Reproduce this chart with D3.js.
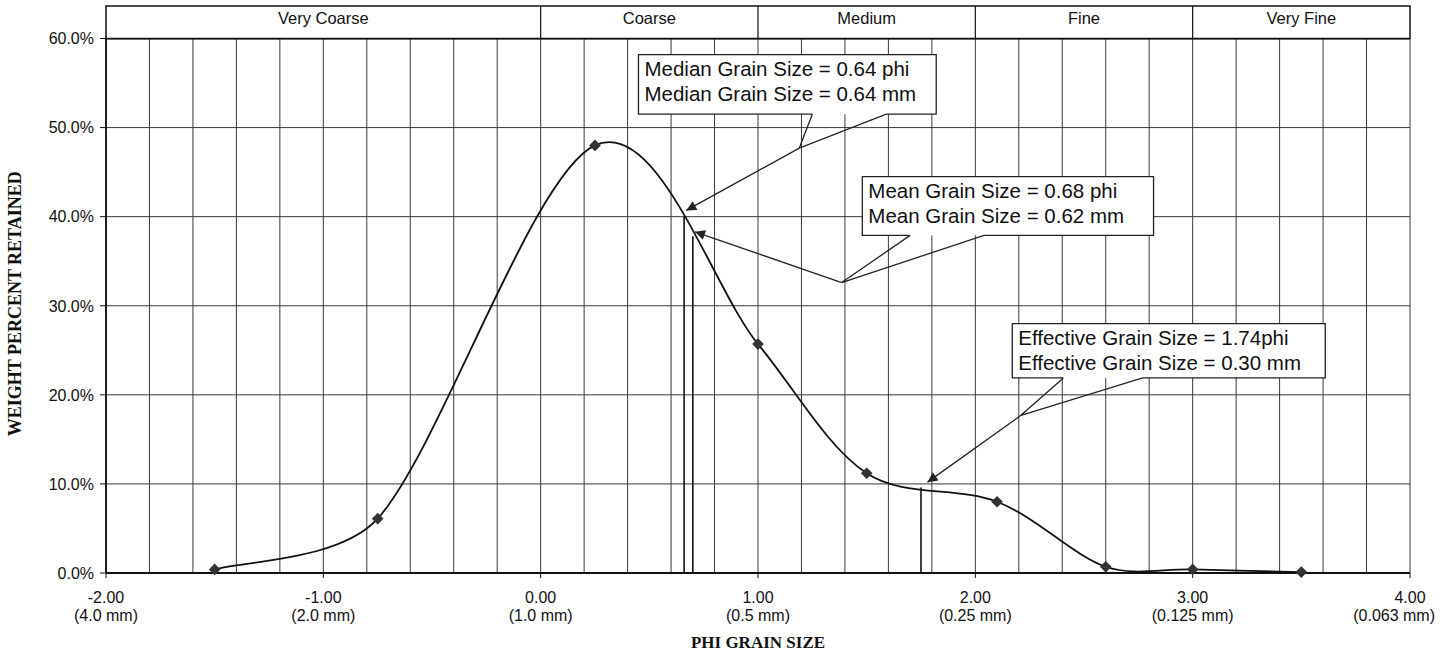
<!doctype html>
<html lang="en">
<head>
<meta charset="utf-8">
<title>Grain Size Distribution</title>
<style>
  body { margin: 0; background: #fff; }
  svg { display: block; }
  text { font-family: "Liberation Sans", Arial, sans-serif; fill: #111; }
  .serif { font-family: "Liberation Serif", "Times New Roman", serif; font-weight: bold; }
</style>
</head>
<body>
<div id="chart"></div>
<script src="https://d3js.org/d3.v7.min.js"></script>
<script>
// sieve data (phi, weight % retained)
var phi = [-1.5, -0.75, 0.25, 1.0, 1.5, 2.1, 2.6, 3.0, 3.5];
var pct = [0.4, 6.1, 48.0, 25.7, 11.2, 8.0, 0.7, 0.4, 0.1];

// axis ticks
var xTicks = [-2, -1, 0, 1, 2, 3, 4];
var xTickMm = ["(4.0 mm)", "(2.0 mm)", "(1.0 mm)", "(0.5 mm)", "(0.25 mm)", "(0.125 mm)", "(0.063 mm)"];
var yTicks = [0, 10, 20, 30, 40, 50, 60];

// size classes in the header band
var classNames = ["Very Coarse", "Coarse", "Medium", "Fine", "Very Fine"];
var classFrom = [-2, 0, 1, 2, 3];
var classTo = [0, 1, 2, 3, 4];

// vertical marker lines (median, mean, effective)
var markerPhi = [0.66, 0.70, 1.75];
var markerPct = [40.0, 37.8, 9.6];

// callouts, all in data units
var calloutText = [
  ["Median Grain Size = 0.64 phi", "Median Grain Size = 0.64 mm"],
  ["Mean Grain Size = 0.68 phi", "Mean Grain Size = 0.62 mm"],
  ["Effective Grain Size = 1.74phi", "Effective Grain Size = 0.30 mm"]
];
var calloutBox = [[0.45, 1.82, 58.2, 51.5], [1.48, 2.82, 44.5, 37.9], [2.17, 3.61, 28.0, 21.9]];
var calloutLegs = [[1.25, 1.59], [1.70, 2.04], [2.405, 2.77]];
var calloutApex = [[1.19, 47.7], [1.385, 32.6], [2.21, 17.7]];
var calloutTip = [[0.67, 40.7], [0.71, 38.3], [1.78, 10.2]];

var W = 1448, H = 654;
var mLeft = 106, mRight = 1410, mTop = 38.5, mBottom = 573;

var svg = d3.select("#chart").append("svg")
  .attr("width", W).attr("height", H);

var x = d3.scaleLinear().domain([-2, 4]).range([mLeft, mRight]);
var y = d3.scaleLinear().domain([0, 60]).range([mBottom, mTop]);

svg.append("defs").append("marker")
  .attr("id", "head")
  .attr("viewBox", "0 0 10 10")
  .attr("refX", 10).attr("refY", 5)
  .attr("markerWidth", 12).attr("markerHeight", 10)
  .attr("markerUnits", "userSpaceOnUse")
  .attr("orient", "auto")
  .append("path").attr("d", "M0,0L10,5L0,10z").attr("fill", "#222");

// grid: vertical every 0.2 phi, horizontal every 10%
var vGrid = d3.range(0, 31).map(function(i) { return -2 + i * 0.2; });
svg.append("g").selectAll("line").data(vGrid).enter().append("line")
  .attr("x1", function(d) { return x(d); }).attr("x2", function(d) { return x(d); })
  .attr("y1", y(0)).attr("y2", y(60))
  .attr("stroke", "#3a3a3a").attr("stroke-width", 1);
svg.append("g").selectAll("line").data(yTicks).enter().append("line")
  .attr("x1", x(-2)).attr("x2", x(4))
  .attr("y1", function(d) { return y(d); }).attr("y2", function(d) { return y(d); })
  .attr("stroke", "#3a3a3a").attr("stroke-width", 1);

// axes lines
svg.append("line").attr("x1", x(-2)).attr("x2", x(-2)).attr("y1", y(0)).attr("y2", y(60))
  .attr("stroke", "#111").attr("stroke-width", 1.8);
svg.append("line").attr("x1", x(-2)).attr("x2", x(4)).attr("y1", y(0)).attr("y2", y(0))
  .attr("stroke", "#111").attr("stroke-width", 1.8);
svg.append("line").attr("x1", x(-2)).attr("x2", x(4)).attr("y1", y(60)).attr("y2", y(60))
  .attr("stroke", "#111").attr("stroke-width", 1.8);

// y ticks + labels
var yg = svg.append("g");
yg.selectAll("line").data(yTicks).enter().append("line")
  .attr("x1", mLeft - 6).attr("x2", mLeft)
  .attr("y1", function(d) { return y(d); }).attr("y2", function(d) { return y(d); })
  .attr("stroke", "#111");
yg.selectAll("text").data(yTicks).enter().append("text")
  .attr("x", mLeft - 12).attr("y", function(d) { return y(d); })
  .attr("dy", "0.36em").attr("text-anchor", "end").attr("font-size", "16px")
  .text(function(d) { return d.toFixed(1) + "%"; });

// x ticks + two-line labels
var xg = svg.append("g");
xg.selectAll("line").data(xTicks).enter().append("line")
  .attr("x1", function(d) { return x(d); }).attr("x2", function(d) { return x(d); })
  .attr("y1", mBottom).attr("y2", mBottom + 5).attr("stroke", "#111");
xg.selectAll("text.phi").data(xTicks).enter().append("text").attr("class", "phi")
  .attr("x", function(d) { return x(d); }).attr("y", 603)
  .attr("text-anchor", "middle").attr("font-size", "16px")
  .text(function(d) { return d.toFixed(2); });
xg.selectAll("text.mm").data(xTicks).enter().append("text").attr("class", "mm")
  .attr("x", function(d, i) { return i == xTicks.length - 1 ? x(d) + 25 : x(d); })
  .attr("y", 621)
  .attr("text-anchor", function(d, i) { return i == xTicks.length - 1 ? "end" : "middle"; })
  .attr("font-size", "16px")
  .text(function(d, i) { return xTickMm[i]; });

// axis titles
svg.append("text").attr("class", "serif")
  .attr("x", x(1)).attr("y", 648).attr("text-anchor", "middle").attr("font-size", "17px")
  .text("PHI GRAIN SIZE");
svg.append("text").attr("class", "serif")
  .attr("transform", "translate(21," + (y(30) - 2) + ") rotate(-90)")
  .attr("text-anchor", "middle").attr("font-size", "18px")
  .text("WEIGHT PERCENT RETAINED");

// header band with size classes
var hg = svg.append("g");
hg.append("rect").attr("x", mLeft).attr("y", 6).attr("width", mRight - mLeft).attr("height", mTop - 6)
  .attr("fill", "#fff").attr("stroke", "#111").attr("stroke-width", 1.5);
hg.selectAll("line").data(classFrom.slice(1)).enter().append("line")
  .attr("x1", function(d) { return x(d); }).attr("x2", function(d) { return x(d); })
  .attr("y1", 6).attr("y2", mTop).attr("stroke", "#111").attr("stroke-width", 1.2);
hg.selectAll("text").data(classNames).enter().append("text")
  .attr("x", function(d, i) { return (x(classFrom[i]) + x(classTo[i])) / 2; })
  .attr("y", 24).attr("text-anchor", "middle").attr("font-size", "16.5px")
  .text(function(d) { return d; });

// marker lines
svg.append("g").selectAll("line").data(markerPhi).enter().append("line")
  .attr("x1", function(d) { return x(d); }).attr("x2", function(d) { return x(d); })
  .attr("y1", y(0)).attr("y2", function(d, i) { return y(markerPct[i]); })
  .attr("stroke", "#111").attr("stroke-width", 1.6);

// smoothed curve, spreadsheet style: catmull-rom beziers with the
// control arms clamped to a third of each segment
function smoothPath(p) {
  var path = d3.path(), n = p.length;
  path.moveTo(p[0][0], p[0][1]);
  for (var i = 0; i < n - 1; i++) {
    var p0 = p[Math.max(i - 1, 0)], p1 = p[i], p2 = p[i + 1], p3 = p[Math.min(i + 2, n - 1)];
    var lim = Math.hypot(p2[0] - p1[0], p2[1] - p1[1]) / 3;
    var a = [(p2[0] - p0[0]) / 6, (p2[1] - p0[1]) / 6];
    var b = [(p3[0] - p1[0]) / 6, (p3[1] - p1[1]) / 6];
    var la = Math.hypot(a[0], a[1]), lb = Math.hypot(b[0], b[1]);
    if (la > lim) { a = [a[0] * lim / la, a[1] * lim / la]; }
    if (lb > lim) { b = [b[0] * lim / lb, b[1] * lim / lb]; }
    path.bezierCurveTo(p1[0] + a[0], p1[1] + a[1], p2[0] - b[0], p2[1] - b[1], p2[0], p2[1]);
  }
  return path.toString();
}
var pts = phi.map(function(d, i) { return [d, pct[i]]; });
var pxPts = pts.map(function(d) { return [x(d[0]), y(d[1])]; });
svg.append("path")
  .attr("d", smoothPath(pxPts)).attr("fill", "none").attr("stroke", "#111").attr("stroke-width", 1.8);

// diamonds
svg.append("g").selectAll("path").data(pts).enter().append("path")
  .attr("d", d3.symbol().type(d3.symbolSquare).size(68))
  .attr("transform", function(d) { return "translate(" + x(d[0]) + "," + y(d[1]) + ") rotate(45)"; })
  .attr("fill", "#333");

// callouts
calloutText.forEach(function(lines, i) {
  var b = calloutBox[i];
  var x0 = x(b[0]), x1 = x(b[1]), y0 = y(b[2]), y1 = y(b[3]);
  var l0 = x(calloutLegs[i][0]), l1 = x(calloutLegs[i][1]);
  var ax = x(calloutApex[i][0]), ay = y(calloutApex[i][1]);
  var g = svg.append("g");
  g.append("rect").attr("x", x0).attr("y", y0).attr("width", x1 - x0).attr("height", y1 - y0)
    .attr("fill", "#fff");
  var p = d3.path();
  p.moveTo(l0, y1); p.lineTo(x0, y1); p.lineTo(x0, y0); p.lineTo(x1, y0); p.lineTo(x1, y1);
  p.lineTo(l1, y1); p.lineTo(ax, ay); p.lineTo(l0, y1);
  g.append("path").attr("d", p.toString()).attr("fill", "none")
    .attr("stroke", "#222").attr("stroke-width", 1.3).attr("stroke-linejoin", "miter");
  g.append("line").attr("x1", ax).attr("y1", ay)
    .attr("x2", x(calloutTip[i][0])).attr("y2", y(calloutTip[i][1]))
    .attr("stroke", "#222").attr("stroke-width", 1.3).attr("marker-end", "url(#head)");
  g.selectAll("text").data(lines).enter().append("text")
    .attr("x", x0 + 6).attr("y", function(d, j) { return y0 + 21 + j * 25; })
    .attr("font-size", "20.5px")
    .text(function(d) { return d; });
});
</script>
</body>
</html>
